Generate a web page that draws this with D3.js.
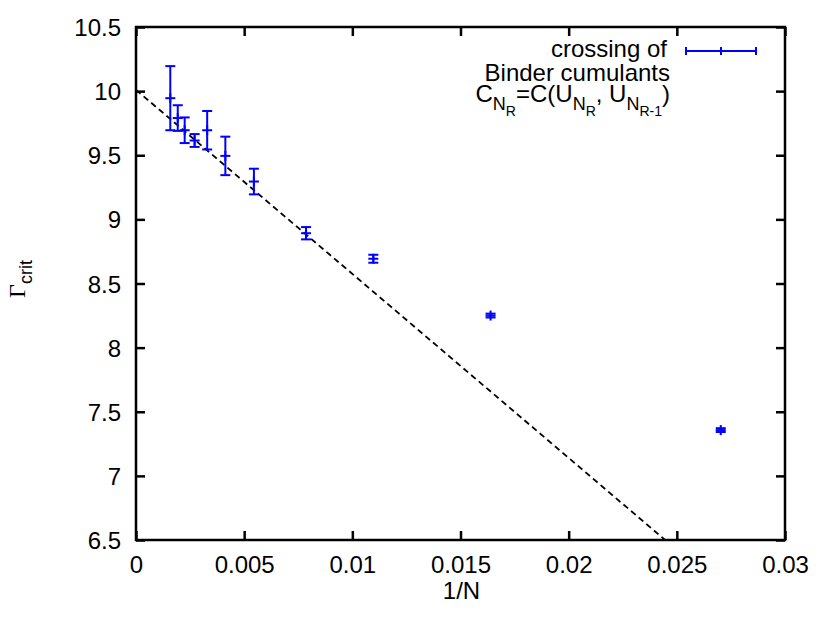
<!DOCTYPE html>
<html>
<head>
<meta charset="utf-8">
<script src="https://cdn.jsdelivr.net/npm/d3@7"></script>
<style>
  html, body { margin: 0; padding: 0; background: #fff; }
  svg { display: block; }
</style>
</head>
<body>
<svg id="chart" width="830" height="620"></svg>
<script>
// ---- data ----
const invN = [0.001585, 0.00193, 0.00225, 0.00271, 0.00329, 0.00413, 0.00545, 0.00786, 0.01097, 0.01639, 0.02703];
const gammaCrit = [9.945, 9.79, 9.695, 9.615, 9.695, 9.495, 9.295, 8.892, 8.693, 8.25, 7.357];
const gammaErr = [0.25, 0.10, 0.10, 0.05, 0.15, 0.15, 0.10, 0.048, 0.031, 0.015, 0.015];

// linear extrapolation (dashed line): Gamma = fitIntercept + fitSlope * (1/N)
const fitIntercept = 10.01;
const fitSlope = -143.5;

const xTicks = [0, 0.005, 0.01, 0.015, 0.02, 0.025, 0.03];
const xTickLabels = ["0", "0.005", "0.01", "0.015", "0.02", "0.025", "0.03"];
const yTicks = [6.5, 7, 7.5, 8, 8.5, 9, 9.5, 10, 10.5];
const yTickLabels = ["6.5", "7", "7.5", "8", "8.5", "9", "9.5", "10", "10.5"];

// ---- layout ----
const pLeft = 136, pRight = 785, pTop = 27, pBottom = 540;
const blue = "#0000ff";
const sans = "'Liberation Sans', Arial, Helvetica, sans-serif";
const serif = "'Liberation Serif', 'Times New Roman', serif";
const fs = 24;

const svg = d3.select("#chart");
const x = d3.scaleLinear().domain([0, 0.03]).range([pLeft, pRight]);
const y = d3.scaleLinear().domain([6.5, 10.5]).range([pBottom, pTop]);

// clip
svg.append("defs").append("clipPath").attr("id", "clip")
  .append("rect").attr("x", pLeft).attr("y", pTop)
  .attr("width", pRight - pLeft).attr("height", pBottom - pTop);

// ---- axes (inward ticks, mirrored) ----
const tickLen = 9;
function styleAxis(g) {
  g.select(".domain").remove();
  g.selectAll(".tick line").attr("stroke", "#000").attr("stroke-width", 2.5);
}
const gx = svg.append("g").attr("transform", `translate(0,${pBottom})`)
  .call(d3.axisBottom(x).tickValues(xTicks).tickSize(-tickLen)
    .tickFormat((d, i) => xTickLabels[i]));
styleAxis(gx);
gx.selectAll(".tick text").attr("y", 33).attr("dy", null)
  .attr("font-family", sans).attr("font-size", fs).attr("fill", "#000");

const gxTop = svg.append("g").attr("transform", `translate(0,${pTop})`)
  .call(d3.axisTop(x).tickValues(xTicks).tickSize(-tickLen).tickFormat(""));
styleAxis(gxTop);

const gy = svg.append("g").attr("transform", `translate(${pLeft},0)`)
  .call(d3.axisLeft(y).tickValues(yTicks).tickSize(-tickLen)
    .tickFormat((d, i) => yTickLabels[i]));
styleAxis(gy);
gy.selectAll(".tick text").attr("x", 121 - pLeft).attr("dy", null).attr("y", 8.5)
  .attr("text-anchor", "end")
  .attr("font-family", sans).attr("font-size", fs).attr("fill", "#000");

const gyRight = svg.append("g").attr("transform", `translate(${pRight},0)`)
  .call(d3.axisRight(y).tickValues(yTicks).tickSize(-tickLen).tickFormat(""));
styleAxis(gyRight);

// ---- fit line ----
const x0 = 0, x1 = 0.03;
svg.append("line")
  .attr("clip-path", "url(#clip)")
  .attr("x1", x(x0)).attr("y1", y(fitIntercept + fitSlope * x0))
  .attr("x2", x(x1)).attr("y2", y(fitIntercept + fitSlope * x1))
  .attr("stroke", "#000").attr("stroke-width", 1.8)
  .attr("stroke-dasharray", "6,4");

// ---- error bars ----
const cap = 5;
const pts = invN.map((v, i) => ({ x: v, y: gammaCrit[i], e: gammaErr[i] }));
const eb = svg.append("g").attr("stroke", blue).attr("stroke-width", 2).attr("fill", "none");
const gp = eb.selectAll("g.pt").data(pts).join("g").attr("class", "pt");
gp.append("line")
  .attr("x1", d => x(d.x)).attr("x2", d => x(d.x))
  .attr("y1", d => y(d.y - d.e)).attr("y2", d => y(d.y + d.e));
gp.append("line")
  .attr("x1", d => x(d.x) - cap).attr("x2", d => x(d.x) + cap)
  .attr("y1", d => y(d.y + d.e)).attr("y2", d => y(d.y + d.e));
gp.append("line")
  .attr("x1", d => x(d.x) - cap).attr("x2", d => x(d.x) + cap)
  .attr("y1", d => y(d.y - d.e)).attr("y2", d => y(d.y - d.e));
// point marker (plus)
gp.append("line")
  .attr("x1", d => x(d.x) - cap).attr("x2", d => x(d.x) + cap)
  .attr("y1", d => y(d.y)).attr("y2", d => y(d.y));
gp.append("line")
  .attr("x1", d => x(d.x)).attr("x2", d => x(d.x))
  .attr("y1", d => y(d.y) - cap).attr("y2", d => y(d.y) + cap);

// ---- frame ----
svg.append("rect").attr("x", pLeft).attr("y", pTop)
  .attr("width", pRight - pLeft).attr("height", pBottom - pTop)
  .attr("fill", "none").attr("stroke", "#000").attr("stroke-width", 2.5);

// ---- axis labels ----
svg.append("text").attr("x", (pLeft + pRight) / 2 + 1).attr("y", 599)
  .attr("text-anchor", "middle").attr("font-family", sans).attr("font-size", fs)
  .text("1/N");

const yl = svg.append("text").attr("transform", "translate(25,279) rotate(-90)")
  .attr("text-anchor", "middle");
yl.append("tspan").attr("font-family", serif).attr("font-size", fs).text("Γ");
yl.append("tspan").attr("font-family", sans).attr("font-size", 18).attr("dy", 7).text("crit");

// ---- legend ----
const lg = svg.append("g").attr("font-family", sans).attr("font-size", fs).attr("fill", "#000");
lg.append("text").attr("x", 667).attr("y", 57).attr("text-anchor", "end").text("crossing of");
lg.append("text").attr("x", 670).attr("y", 81).attr("text-anchor", "end").text("Binder cumulants");
const t3 = lg.append("text").attr("x", 670).attr("y", 102).attr("text-anchor", "end");
t3.append("tspan").text("C");
t3.append("tspan").attr("font-size", 18).attr("dy", 8).text("N");
t3.append("tspan").attr("font-size", 14).attr("dy", 6).text("R");
t3.append("tspan").attr("dy", -14).text("=C(U");
t3.append("tspan").attr("font-size", 18).attr("dy", 8).text("N");
t3.append("tspan").attr("font-size", 14).attr("dy", 6).text("R");
t3.append("tspan").attr("dy", -14).text(", U");
t3.append("tspan").attr("font-size", 18).attr("dy", 8).text("N");
t3.append("tspan").attr("font-size", 14).attr("dy", 6).text("R-1");
t3.append("tspan").attr("dy", -14).text(")");

const ly = 51, lx1 = 686, lx2 = 756;
const ls = svg.append("g").attr("stroke", blue).attr("stroke-width", 2);
ls.append("line").attr("x1", lx1).attr("x2", lx2).attr("y1", ly).attr("y2", ly);
[lx1, (lx1 + lx2) / 2, lx2].forEach(v => {
  ls.append("line").attr("x1", v).attr("x2", v).attr("y1", ly - 4).attr("y2", ly + 4);
});
</script>
</body>
</html>
